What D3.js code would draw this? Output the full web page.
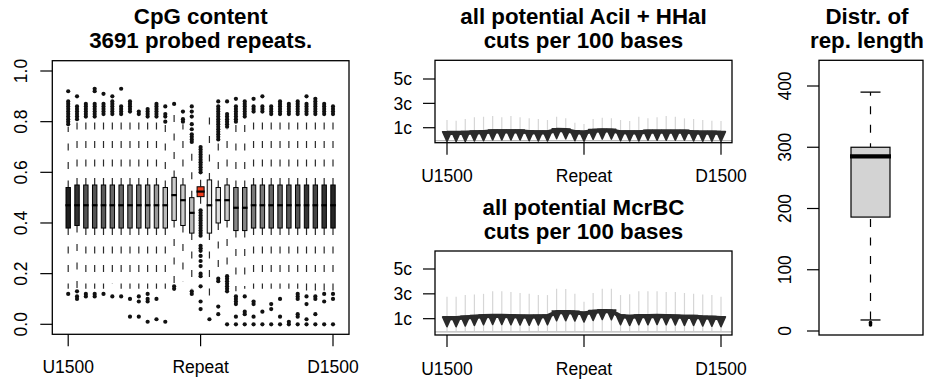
<!DOCTYPE html>
<html>
<head>
<meta charset="utf-8">
<script src="https://cdn.jsdelivr.net/npm/d3@7"></script>
<style>
  html, body { margin: 0; padding: 0; background: #fff; }
  svg { display: block; font-family: "Liberation Sans", Arial, Helvetica, sans-serif; }
</style>
</head>
<body>
<svg id="fig" width="931" height="381"></svg>
<script>
// ---- bins: 15 upstream windows, the repeat itself, 15 downstream windows ----
const bins = ["U1500","U1400","U1300","U1200","U1100","U1000","U900","U800","U700","U600","U500","U400","U300","U200","U100",
              "Repeat",
              "D100","D200","D300","D400","D500","D600","D700","D800","D900","D1000","D1100","D1200","D1300","D1400","D1500"];
const binTicks = ["U1500", "Repeat", "D1500"];

// ---- CpG content per bin (box statistics) ----
const cpgQ1  = [.38,.39,.38,.38,.38,.38,.38,.38,.38,.38,.38,.38,.41,.39,.36,.504,.36,.40,.41,.37,.37,.38,.38,.38,.38,.38,.38,.38,.38,.38,.38];
const cpgMed = [.47,.47,.47,.47,.47,.47,.47,.47,.47,.47,.47,.47,.51,.49,.44,.524,.47,.49,.49,.46,.46,.47,.47,.47,.47,.47,.47,.47,.47,.47,.47];
const cpgQ3  = [.54,.55,.55,.55,.55,.55,.55,.55,.55,.55,.55,.54,.58,.55,.50,.543,.57,.54,.55,.54,.54,.55,.55,.55,.55,.55,.55,.55,.55,.55,.55];
const cpgLo  = [.14,.14,.14,.14,.14,.16,.14,.14,.14,.14,.14,.14,.16,.17,.14,.46,.10,.20,.21,.13,.14,.14,.14,.14,.14,.14,.14,.13,.13,.13,.13];
const cpgHi  = [.78,.80,.81,.81,.82,.82,.82,.83,.82,.81,.81,.79,.83,.79,.70,.59,.82,.72,.77,.79,.81,.83,.83,.82,.82,.82,.82,.82,.82,.82,.82];
const cpgOutHigh = [
  [.79,.80,.81,.82,.83,.84,.85,.86,.87,.88,.92],
  [.81,.82,.83,.84,.85,.86,.90],
  [.82,.83,.84,.85,.86,.87],
  [.82,.83,.84,.85,.86,.87,.92,.93],
  [.83,.84,.85,.86,.87,.91],
  [.83,.84,.85,.86,.87,.88,.90],
  [.83,.84,.85,.86,.93],
  [.84,.85,.86,.87,.88],
  [.83,.84],
  [.82,.83,.84,.85],
  [.82,.83,.84,.85,.86,.87],
  [.80,.82,.83,.86],
  [.87],
  [.80,.81,.84],
  [.72,.73,.74,.75,.77,.79,.82,.84,.86],
  [.60,.61,.62,.63,.64,.65,.66,.67,.68,.69,.70],
  [],
  [.73,.74,.75,.76,.77,.78,.79,.80,.81,.82,.83,.84,.85,.86,.88],
  [.78,.79,.80,.81,.82,.83,.88],
  [.80,.81,.82,.83,.84,.85,.86,.89],
  [.82,.83,.84,.85,.86,.87,.88],
  [.84,.85,.86,.89],
  [.84,.85,.86,.90],
  [.83,.84,.85,.86],
  [.83,.84,.85,.86,.87,.88],
  [.83,.84,.85,.86,.87],
  [.83,.84,.85,.86,.87,.88],
  [.83,.84,.85,.86,.87,.90],
  [.83,.84,.85,.86,.87,.88,.89],
  [.83,.84,.85,.86,.87],
  [.83,.84,.85,.86]
];
const cpgOutLow = [
  [.12],[.13,.11,.10],[.12,.11],[.12,.11],[.12],[.11],[.11],[.10,.03],[.11,.09,.03],[.12,.10,.09,.01],
  [.10,.02],[.01],[.15,.14],[],[.13,.12],
  [.45,.44,.43,.42,.41,.40,.39,.38,.37,.36,.35,.31,.30,.29,.27,.25,.23,.20,.19,.15,.09,.06],
  [.02],[.18,.17,.07,.04],[.19,.18,.17,.16,.15,.14,.13,.00],[.11,.10,.09,.08,.03,.00],[.11,.05,.04,.00],
  [.09,.08,.03,.00],[.05,.00],[.08,.06,.00],[.10,.03,.00],[.01,.00],[.12,.11,.10,.04,.03,.00],
  [.11,.08,.02,.00],[.11,.10,.04,.00],[.12,.09,.00],[.12,.10,.00]
];
// grey level of each box fill (0 = black, 1 = white); the repeat bin is highlighted
const boxGrey = [.12,.2,.33,.33,.35,.4,.4,.45,.45,.53,.6,.73,.8,.8,.73,null,.93,.87,.8,.53,.53,.47,.47,.4,.4,.35,.33,.2,.27,.2,.15];
const repeatFill = "#f03d1d";

// ---- restriction cuts per 100 bases: mean and upper range per bin ----
const aciMean = [.57,.57,.58,.62,.64,.70,.70,.70,.70,.64,.62,.62,.82,.80,.64,.60,.75,.78,.77,.63,.62,.62,.68,.68,.68,.68,.68,.62,.60,.60,.58];
const aciHigh = [1.63,1.57,1.71,1.85,1.90,1.96,1.85,1.96,1.85,1.77,1.71,1.63,1.90,1.77,1.41,1.30,1.71,1.82,1.77,1.63,1.55,1.90,1.77,1.85,1.96,1.90,1.77,1.71,1.63,1.57,1.55];
const mcrMean = [1.05,1.05,1.10,1.15,1.20,1.22,1.22,1.20,1.18,1.17,1.18,1.20,1.52,1.53,1.50,1.42,1.55,1.62,1.60,1.20,1.15,1.20,1.20,1.22,1.20,1.18,1.15,1.15,1.10,1.08,1.05];
const mcrHigh = [2.77,2.77,2.90,2.95,3.00,3.20,3.20,3.15,3.07,3.00,2.90,2.90,3.40,3.38,3.00,2.36,3.07,3.40,3.40,2.90,2.97,3.20,3.20,3.20,3.15,3.15,3.07,3.00,2.95,2.90,2.77];
const cutTicks = [1, 3, 5];

// ---- repeat length distribution ----
const lenStats = { lo: 18, q1: 186, med: 285, q3: 300, hi: 390 };
const lenOutliers = [14, 12, 10];
const lenTicks = [0, 100, 200, 300, 400];

const svg = d3.select("#fig");
svg.append("rect").attr("width", 931).attr("height", 381).attr("fill", "#fff");

const FONT_TICK = 17.5, FONT_TITLE = 22.3;

function frame(x0, x1, y0, y1) {
  svg.append("rect").attr("x", x0).attr("y", y0).attr("width", x1 - x0).attr("height", y1 - y0)
    .attr("fill", "none").attr("stroke", "#000").attr("stroke-width", 1.3);
}
function title(lines, cx, baseTop) {
  lines.forEach((t, k) => {
    svg.append("text").attr("x", cx).attr("y", baseTop + k * 24)
      .attr("text-anchor", "middle").attr("font-weight", "bold").attr("font-size", FONT_TITLE)
      .attr("fill", "#000").text(t);
  });
}
function bottomAxis(x, yEdge, labelY) {
  const g = svg.append("g");
  binTicks.forEach(b => {
    g.append("line").attr("x1", x(b)).attr("x2", x(b)).attr("y1", yEdge).attr("y2", yEdge + 12)
      .attr("stroke", "#000").attr("stroke-width", 1.2);
    g.append("text").attr("x", x(b)).attr("y", labelY).attr("text-anchor", "middle")
      .attr("font-size", FONT_TICK).text(b);
  });
}
function rotatedLeftAxis(y, ticks, fmt, xEdge, labelX) {
  const g = svg.append("g");
  ticks.forEach(t => {
    g.append("line").attr("x1", xEdge - 12).attr("x2", xEdge).attr("y1", y(t)).attr("y2", y(t))
      .attr("stroke", "#000").attr("stroke-width", 1.2);
    g.append("text").attr("transform", `translate(${labelX},${y(t)}) rotate(-90)`)
      .attr("text-anchor", "middle").attr("font-size", FONT_TICK).text(fmt(t));
  });
}

// =================== Panel 1: CpG content boxplots ===================
{
  const X0 = 52.3, X1 = 349, Y0 = 60.7, Y1 = 334.3;
  const x = d3.scalePoint().domain(bins).range([68.2, 333]);
  const y = d3.scaleLinear().domain([0, 1]).range([324.3, 71]);
  const g = svg.append("g");
  const dash = "7 11.5";

  bins.forEach((b, i) => {
    const cx = x(b);
    const isRep = boxGrey[i] === null;
    const w = isRep ? 7 : 4.4;
    // whiskers
    g.append("line").attr("x1", cx).attr("x2", cx).attr("y1", y(cpgQ3[i])).attr("y2", y(cpgHi[i]))
      .attr("stroke", "#2a2a2a").attr("stroke-width", 1.2).attr("stroke-dasharray", dash);
    g.append("line").attr("x1", cx).attr("x2", cx).attr("y1", y(cpgQ1[i])).attr("y2", y(cpgLo[i]))
      .attr("stroke", "#2a2a2a").attr("stroke-width", 1.2).attr("stroke-dasharray", dash);
    // box
    const fill = isRep ? repeatFill : d3.rgb(255 * boxGrey[i], 255 * boxGrey[i], 255 * boxGrey[i]).toString();
    g.append("rect").attr("x", cx - w / 2).attr("width", w)
      .attr("y", y(cpgQ3[i])).attr("height", y(cpgQ1[i]) - y(cpgQ3[i]))
      .attr("fill", fill).attr("stroke", "#000").attr("stroke-width", 1);
    // median
    g.append("line").attr("x1", cx - w / 2 - 0.6).attr("x2", cx + w / 2 + 0.6)
      .attr("y1", y(cpgMed[i])).attr("y2", y(cpgMed[i]))
      .attr("stroke", "#000").attr("stroke-width", 2.2);
    // outliers
    cpgOutHigh[i].concat(cpgOutLow[i]).forEach(v => {
      g.append("circle").attr("cx", cx).attr("cy", y(v)).attr("r", 2.1).attr("fill", "#111");
    });
  });

  frame(X0, X1, Y0, Y1);
  rotatedLeftAxis(y, [0, .2, .4, .6, .8, 1], d3.format(".1f"), X0, 26.7);
  bottomAxis(x, Y1, 373);
  title(["CpG content", "3691 probed repeats."], 200.7, 24);
}

// =================== Panels 2 & 3: cut frequency profiles ===================
function cutPanel(mean, high, Y0, Y1, zeroY, fiveY, titleTop) {
  const X0 = 435, X1 = 732;
  const x = d3.scalePoint().domain(bins).range([447, 721]);
  const y = d3.scaleLinear().domain([0, 5]).range([zeroY, fiveY]);
  const g = svg.append("g");

  g.append("line").attr("x1", X0).attr("x2", X1).attr("y1", y(0) + 0.8).attr("y2", y(0) + 0.8)
    .attr("stroke", "#b8b8b8").attr("stroke-width", 1.2);
  bins.forEach((b, i) => {
    g.append("line").attr("x1", x(b)).attr("x2", x(b)).attr("y1", y(0)).attr("y2", y(high[i]))
      .attr("stroke", "#d6d6d6").attr("stroke-width", 1.2);
  });
  const pts = bins.map((b, i) => [x(b), y(mean[i])]);
  g.append("path").attr("d", d3.line()(pts)).attr("fill", "none")
    .attr("stroke", "#2b2b2b").attr("stroke-width", 4.2).attr("stroke-linejoin", "round");
  pts.forEach(([px, py]) => {
    g.append("path").attr("d", `M${px - 4.4},${py - 1.2}L${px + 4.4},${py - 1.2}L${px},${py + 8.5}Z`)
      .attr("fill", "#2b2b2b").attr("stroke", "#2b2b2b").attr("stroke-width", 1.6)
      .attr("stroke-linejoin", "round");
  });

  frame(X0, X1, Y0, Y1);
  cutTicks.forEach(t => {
    svg.append("line").attr("x1", X0 - 12).attr("x2", X0).attr("y1", y(t)).attr("y2", y(t))
      .attr("stroke", "#000").attr("stroke-width", 1.2);
    svg.append("text").attr("x", 412).attr("y", y(t)).attr("dy", "0.36em").attr("text-anchor", "end")
      .attr("font-size", FONT_TICK).text(t + "c");
  });
  bottomAxis(x, Y1, Y1 + 39.5);
  title(titleTop.lines, 583.5, titleTop.base);
}
cutPanel(aciMean, aciHigh, 60.3, 142.7, 139.9, 79, { lines: ["all potential AciI + HHaI", "cuts per 100 bases"], base: 24 });
cutPanel(mcrMean, mcrHigh, 251, 335, 331.1, 269, { lines: ["all potential McrBC", "cuts per 100 bases"], base: 215 });

// =================== Panel 4: repeat length ===================
{
  const X0 = 819, X1 = 923, Y0 = 60.3, Y1 = 335;
  const y = d3.scaleLinear().domain([0, 400]).range([331, 86]);
  const cx = 870.5, w = 39;
  const g = svg.append("g");
  const dash = "8 10.5";
  g.append("line").attr("x1", cx).attr("x2", cx).attr("y1", y(lenStats.q3)).attr("y2", y(lenStats.hi))
    .attr("stroke", "#000").attr("stroke-width", 1.2).attr("stroke-dasharray", dash).attr("stroke-dashoffset", 4);
  g.append("line").attr("x1", cx).attr("x2", cx).attr("y1", y(lenStats.q1)).attr("y2", y(lenStats.lo))
    .attr("stroke", "#000").attr("stroke-width", 1.2).attr("stroke-dasharray", dash).attr("stroke-dashoffset", -2);
  [lenStats.hi, lenStats.lo].forEach(v => {
    g.append("line").attr("x1", cx - 10).attr("x2", cx + 10).attr("y1", y(v)).attr("y2", y(v))
      .attr("stroke", "#000").attr("stroke-width", 1.3);
  });
  lenOutliers.forEach(v => {
    g.append("circle").attr("cx", cx).attr("cy", y(v)).attr("r", 1.8).attr("fill", "#000");
  });
  g.append("rect").attr("x", cx - w / 2).attr("width", w)
    .attr("y", y(lenStats.q3)).attr("height", y(lenStats.q1) - y(lenStats.q3))
    .attr("fill", "#d3d3d3").attr("stroke", "#000").attr("stroke-width", 1.2);
  g.append("line").attr("x1", cx - w / 2 - 1).attr("x2", cx + w / 2 + 1)
    .attr("y1", y(lenStats.med)).attr("y2", y(lenStats.med))
    .attr("stroke", "#000").attr("stroke-width", 4.2);

  frame(X0, X1, Y0, Y1);
  rotatedLeftAxis(y, lenTicks, d3.format("d"), X0, 790.7);
  title(["Distr. of", "rep. length"], 867, 24);
}
</script>
</body>
</html>
